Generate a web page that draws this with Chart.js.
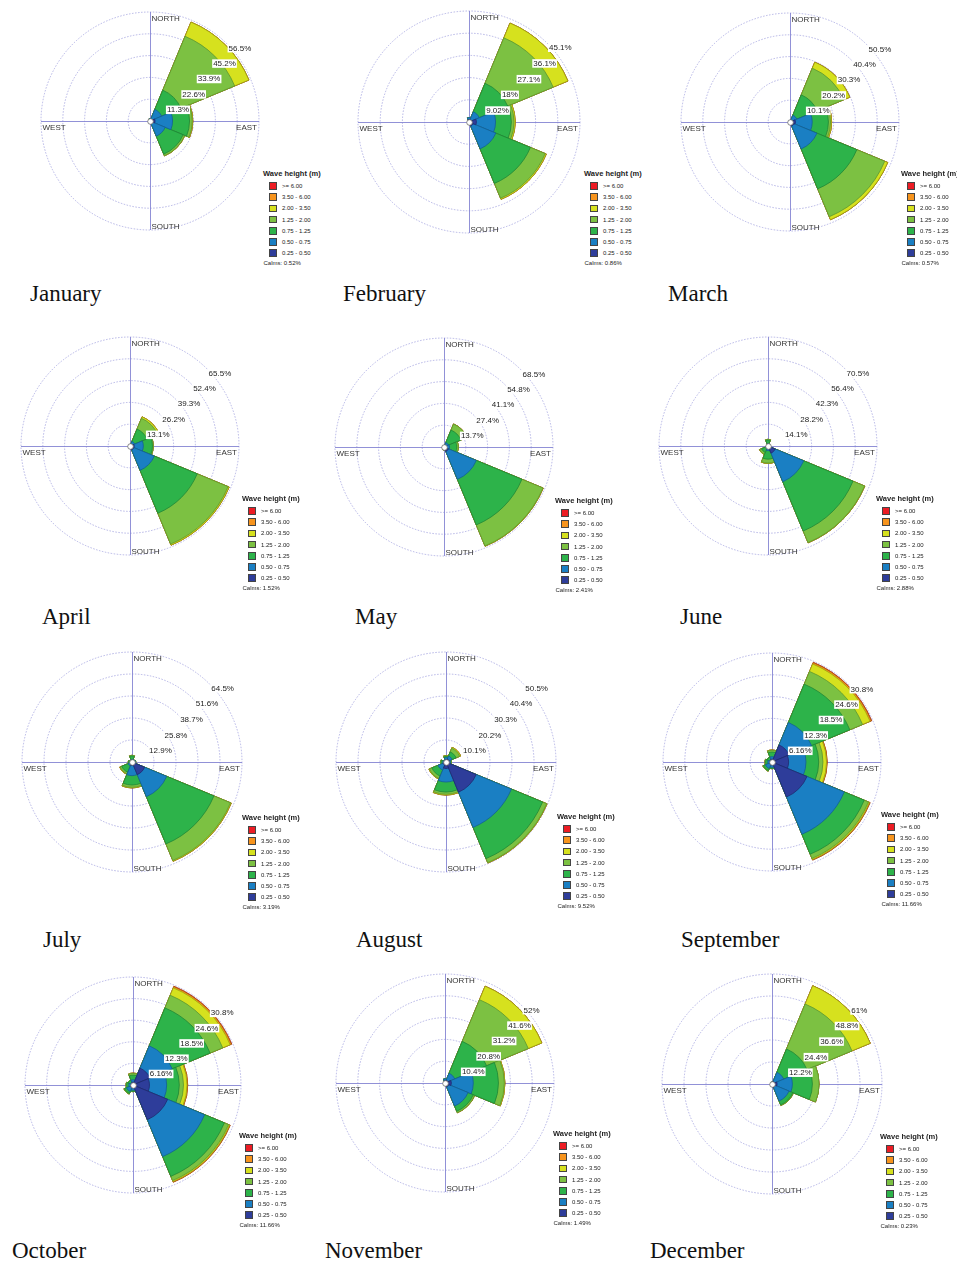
<!DOCTYPE html>
<html>
<head>
<meta charset="utf-8">
<title>Monthly wave roses</title>
<script src="https://cdn.jsdelivr.net/npm/chart.js@4.4.0/dist/chart.umd.min.js"></script>
<style>
  html, body { margin: 0; padding: 0; background: #fff; }
  #page { position: relative; width: 957px; height: 1264px; overflow: hidden; background: #fff; }
  canvas.rose { position: absolute; }
  .month { position: absolute; font-family: "Liberation Serif", "Times New Roman", serif; font-size: 23px; line-height: 23px; color: #111; white-space: nowrap; }
  .legend { position: absolute; width: 72px; height: 100px; font-family: "Liberation Sans", Arial, sans-serif; color: #222; }
  .legend .ttl { position: absolute; left: 0; top: 0; font-weight: bold; font-size: 7.5px; line-height: 7.5px; white-space: nowrap; }
  .legend .sw { position: absolute; left: 5.5px; width: 8px; height: 7.5px; border: 0.6px solid #444; box-sizing: border-box; }
  .legend .lb { position: absolute; left: 19px; font-size: 6px; line-height: 6px; white-space: nowrap; }
  .legend .cl { position: absolute; left: 0.5px; top: 90px; font-size: 6px; line-height: 6px; white-space: nowrap; }
</style>
</head>
<body>
<div id="page"></div>
<script>
// ---- data ---------------------------------------------------------------
const directions = ['N', 'NE', 'E', 'SE', 'S', 'SW', 'W', 'NW'];
const heightBins = ['0.25 - 0.50', '0.50 - 0.75', '0.75 - 1.25', '1.25 - 2.00', '2.00 - 3.50', '3.50 - 6.00', '>= 6.00'];
const months = ['January', 'February', 'March', 'April', 'May', 'June',
                'July', 'August', 'September', 'October', 'November', 'December'];
const calms = [0.52, 0.86, 0.57, 1.52, 2.41, 2.88, 3.19, 9.52, 11.66, 11.66, 1.49, 0.23];
const ringLabels = [
  ['11.3%', '22.6%', '33.9%', '45.2%', '56.5%'],
  ['9.02%', '18%', '27.1%', '36.1%', '45.1%'],
  ['10.1%', '20.2%', '30.3%', '40.4%', '50.5%'],
  ['13.1%', '26.2%', '39.3%', '52.4%', '65.5%'],
  ['13.7%', '27.4%', '41.1%', '54.8%', '68.5%'],
  ['14.1%', '28.2%', '42.3%', '56.4%', '70.5%'],
  ['12.9%', '25.8%', '38.7%', '51.6%', '64.5%'],
  ['10.1%', '20.2%', '30.3%', '40.4%', '50.5%'],
  ['6.16%', '12.3%', '18.5%', '24.6%', '30.8%'],
  ['6.16%', '12.3%', '18.5%', '24.6%', '30.8%'],
  ['10.4%', '20.8%', '31.2%', '41.6%', '52%'],
  ['12.2%', '24.4%', '36.6%', '48.8%', '61%']
];

// Frequency (%) per wave-height bin (rows, lowest bin first) and direction (N..NW)
const january = [
  [0.8, 1.0, 2.6, 1.5, 0.5, 0.2, 0.1, 0.2],
  [0.4, 5.5, 9.1, 7.0, 0, 0, 0, 0],
  [0, 10.8, 8.8, 10.1, 0, 0, 0, 0],
  [0, 30.2, 1.4, 0.9, 0, 0, 0, 0],
  [0, 8.0, 0.3, 0.1, 0, 0, 0, 0],
  [0, 0, 0, 0, 0, 0, 0, 0],
  [0, 0, 0, 0, 0, 0, 0, 0]
];
const february = [
  [1.0, 1.0, 3.0, 1.8, 0.4, 0.2, 0.1, 0.1],
  [0.8, 3.5, 7.8, 10.0, 0.2, 0, 0, 0],
  [0, 12.5, 6.4, 15.2, 0, 0, 0, 0],
  [0, 20.0, 1.1, 6.5, 0, 0, 0, 0],
  [0, 6.5, 0.5, 0.5, 0, 0, 0, 0],
  [0, 0, 0, 0, 0, 0, 0, 0],
  [0, 0, 0, 0, 0, 0, 0, 0]
];
const march = [
  [0.4, 1.0, 2.5, 2.0, 0.3, 0.1, 0, 0.1],
  [0.2, 2.4, 7.8, 11.5, 0, 0, 0, 0],
  [0, 10.2, 7.5, 20.0, 0, 0, 0, 0],
  [0, 13.4, 1.0, 14.0, 0, 0, 0, 0],
  [0, 3.0, 0.5, 1.5, 0, 0, 0, 0],
  [0, 0, 0, 0, 0, 0, 0, 0],
  [0, 0, 0, 0, 0, 0, 0, 0]
];
const april = [
  [0.3, 1.0, 2.5, 2.5, 0.3, 0.1, 0, 0],
  [0.2, 2.0, 5.5, 13.3, 0, 0, 0, 0],
  [0, 8.0, 5.5, 27.9, 0, 0, 0, 0],
  [0, 7.0, 0.5, 20.1, 0, 0, 0, 0],
  [0, 1.0, 0, 0.7, 0, 0, 0, 0],
  [0, 0, 0, 0, 0, 0, 0, 0],
  [0, 0, 0, 0, 0, 0, 0, 0]
];
const may = [
  [0.3, 1.0, 1.5, 3.0, 1.2, 0.3, 0.2, 0.1],
  [0.5, 2.0, 2.0, 19.0, 0.3, 0.2, 0.1, 0],
  [0, 8.5, 4.5, 31.0, 0.3, 0.5, 0.2, 0],
  [0, 4.1, 1.0, 14.3, 0, 0.2, 0, 0],
  [0, 0.1, 0, 0.2, 0, 0, 0, 0],
  [0, 0, 0, 0, 0, 0, 0, 0],
  [0, 0, 0, 0, 0, 0, 0, 0]
];
const june = [
  [0.5, 0.3, 1.0, 5.0, 1.0, 0.8, 0.3, 0.3],
  [1.0, 0.2, 0.5, 20.0, 2.0, 1.0, 0.3, 0],
  [2.3, 0, 0, 34.5, 5.5, 2.7, 0.4, 0],
  [0.5, 0, 0, 8.1, 2.5, 1.3, 0, 0],
  [0, 0, 0, 0.2, 0.3, 0.2, 0, 0],
  [0, 0, 0, 0, 0, 0, 0, 0],
  [0, 0, 0, 0, 0, 0, 0, 0]
];
const july = [
  [0.5, 0.8, 1.5, 8.0, 2.0, 1.0, 0.5, 0.3],
  [1.0, 0.7, 0.5, 14.0, 6.0, 1.5, 0.5, 0.2],
  [2.0, 0.3, 0.2, 30.0, 5.5, 4.0, 1.0, 0],
  [0.4, 0, 0, 10.5, 1.3, 1.0, 0.2, 0],
  [0, 0, 0, 0.5, 0.4, 0.3, 0, 0],
  [0, 0, 0, 0, 0, 0, 0, 0],
  [0, 0, 0, 0, 0, 0, 0, 0]
];
const august = [
  [1.0, 1.5, 1.5, 15.0, 3.0, 1.5, 0.8, 0.5],
  [1.0, 1.5, 0.5, 17.5, 6.2, 2.5, 0.7, 0.5],
  [0.5, 2.0, 0.2, 15.5, 4.6, 3.0, 0.7, 0],
  [0.3, 1.8, 0.2, 2.0, 1.0, 1.2, 0.3, 0],
  [0.2, 0.5, 0, 0.2, 0.4, 0.3, 0, 0],
  [0, 0, 0, 0, 0, 0, 0, 0],
  [0, 0, 0, 0, 0, 0, 0, 0]
];
const september = [
  [0.8, 5.2, 4.7, 10.7, 0.8, 0.8, 0.5, 0.3],
  [0.7, 6.9, 4.9, 11.4, 0.7, 1.2, 0.7, 0.5],
  [1.3, 11.7, 3.6, 6.1, 0.3, 0.6, 0.6, 0.7],
  [0.5, 3.9, 1.2, 1.3, 0.1, 0.2, 0.2, 0.1],
  [0.1, 2.3, 1.0, 0.3, 0, 0, 0, 0],
  [0, 0.4, 0.2, 0.2, 0, 0, 0, 0],
  [0, 0.1, 0, 0, 0, 0, 0, 0]
];
const october = [
  [0.8, 5.2, 4.7, 10.7, 0.8, 0.8, 0.5, 0.3],
  [0.7, 6.9, 4.9, 11.4, 0.7, 1.2, 0.7, 0.5],
  [1.3, 11.7, 3.6, 6.1, 0.3, 0.6, 0.6, 0.7],
  [0.5, 3.9, 1.2, 1.3, 0.1, 0.2, 0.2, 0.1],
  [0.1, 2.3, 1.0, 0.3, 0, 0, 0, 0],
  [0, 0.4, 0.2, 0.2, 0, 0, 0, 0],
  [0, 0.1, 0, 0, 0, 0, 0, 0]
];
const november = [
  [1.0, 1.5, 3.0, 2.0, 0.5, 0.3, 0.2, 0.2],
  [1.0, 3.5, 10.5, 9.9, 0.4, 0.2, 0.2, 0.3],
  [0, 16.5, 12.0, 2.7, 0.1, 0.1, 0, 0],
  [0, 21.5, 2.8, 0.7, 0, 0, 0, 0],
  [0, 7.0, 0.3, 0.1, 0, 0, 0, 0],
  [0, 0, 0, 0, 0, 0, 0, 0],
  [0, 0, 0, 0, 0, 0, 0, 0]
];
const december = [
  [0.6, 1.5, 2.8, 2.0, 0.4, 0.1, 0.1, 0.2],
  [0.4, 5.5, 8.5, 8.2, 0, 0, 0, 0],
  [0, 14.0, 11.1, 2.3, 0, 0, 0, 0],
  [0, 27.0, 3.7, 0.4, 0, 0, 0, 0],
  [0, 11.0, 0, 0, 0, 0, 0, 0],
  [0, 0, 0, 0, 0, 0, 0, 0],
  [0, 0, 0, 0, 0, 0, 0, 0]
];
const monthlyFrequencies = [january, february, march, april, may, june,
                            july, august, september, october, november, december];

// ---- styling ------------------------------------------------------------
const binColors = ['#2e3d9a', '#1a7fc3', '#2db34a', '#7cc142', '#d6e11e', '#f7941d', '#ec1c24'];
const binEdges  = ['#1f2a6e', '#135f95', '#1f8636', '#5b9630', '#99a312', '#a85f10', '#a01217'];
const compassLabels = ['NORTH', 'EAST', 'SOUTH', 'WEST'];
const RING_COLOR = '#a3a3e0';
const AXIS_COLOR = '#8585d2';
const LABEL_FONT = '8px "Liberation Sans", Arial, sans-serif';

// panel geometry: rose centre / radius, legend corner, month title position
const panels = [
  { cx: 150, cy: 121, R: 109, lx: 263, ly: 170, tx: 30,  tb: 301 },
  { cx: 469, cy: 122, R: 111, lx: 584, ly: 170, tx: 343, tb: 301 },
  { cx: 790, cy: 122, R: 109, lx: 901, ly: 170, tx: 668, tb: 301 },
  { cx: 130, cy: 446, R: 109, lx: 242, ly: 495, tx: 42,  tb: 624 },
  { cx: 444, cy: 447, R: 109, lx: 555, ly: 497, tx: 355, tb: 624 },
  { cx: 768, cy: 446, R: 109, lx: 876, ly: 495, tx: 680, tb: 624 },
  { cx: 132, cy: 762, R: 110, lx: 242, ly: 814, tx: 43,  tb: 947 },
  { cx: 446, cy: 762, R: 110, lx: 557, ly: 813, tx: 356, tb: 947 },
  { cx: 772, cy: 762, R: 109, lx: 881, ly: 811, tx: 681, tb: 947 },
  { cx: 133, cy: 1085, R: 108, lx: 239, ly: 1132, tx: 12, tb: 1258 },
  { cx: 445, cy: 1083, R: 109, lx: 553, ly: 1130, tx: 325, tb: 1258 },
  { cx: 772, cy: 1084, R: 110, lx: 880, ly: 1133, tx: 650, tb: 1258 }
];

// Compass cross, compass words, calm circle and ring percentages
const roseDecor = {
  id: 'roseDecor',
  beforeDatasetsDraw(chart) {
    const r = chart.scales.r, ctx = chart.ctx;
    const cx = r.xCenter, cy = r.yCenter, R = r.drawingArea;
    ctx.save();
    ctx.strokeStyle = AXIS_COLOR;
    ctx.lineWidth = 0.9;
    ctx.beginPath();
    ctx.moveTo(cx + 0.5, cy - R); ctx.lineTo(cx + 0.5, cy + R);
    ctx.moveTo(cx - R, cy + 0.5); ctx.lineTo(cx + R, cy + 0.5);
    ctx.stroke();
    ctx.restore();
  },
  afterDatasetsDraw(chart, args, opts) {
    const r = chart.scales.r, ctx = chart.ctx;
    const cx = r.xCenter, cy = r.yCenter, R = r.drawingArea;
    ctx.save();
    // calm circle
    ctx.beginPath();
    ctx.arc(cx + 0.5, cy + 0.5, 2.8, 0, Math.PI * 2);
    ctx.fillStyle = '#ffffff';
    ctx.fill();
    ctx.strokeStyle = '#6b6b6b';
    ctx.lineWidth = 0.8;
    ctx.stroke();

    // compass words
    ctx.font = LABEL_FONT;
    ctx.fillStyle = '#333';
    ctx.textBaseline = 'top';
    ctx.textAlign = 'left';
    ctx.fillText(compassLabels[0], cx + 1.5, cy - R + 2.5);
    ctx.textBaseline = 'alphabetic';
    ctx.fillText(compassLabels[2], cx + 1.5, cy + R - 1.5);
    ctx.textBaseline = 'top';
    ctx.fillText(compassLabels[3], cx - R + 1.5, cy + 2.5);
    ctx.textAlign = 'right';
    ctx.fillText(compassLabels[1], cx + R - 2, cy + 2.5);

    // ring percentages along the 45 degree ray
    const labels = opts.labels || [];
    ctx.textAlign = 'left';
    ctx.textBaseline = 'top';
    r.ticks.forEach((tick, i) => {
      if (i === 0) return;
      const txt = labels[i - 1];
      if (!txt) return;
      const d = r.getDistanceFromCenterForValue(tick.value);
      const x = cx + d * Math.SQRT1_2 + 1.5;
      const y = cy - d * Math.SQRT1_2 + 0.5;
      const w = ctx.measureText(txt).width;
      ctx.fillStyle = '#ffffff';
      ctx.fillRect(x - 1, y - 0.5, w + 2, 8.5);
      ctx.fillStyle = '#222';
      ctx.fillText(txt, x, y);
    });
    ctx.restore();
  }
};

// ---- build ------------------------------------------------------------
const page = document.getElementById('page');

months.forEach((name, m) => {
  const p = panels[m];
  const freq = monthlyFrequencies[m];
  const maxValue = parseFloat(ringLabels[m][4]);

  const pad = 4;
  const side = 2 * p.R + 2 * pad;
  const canvas = document.createElement('canvas');
  canvas.className = 'rose';
  canvas.width = side;
  canvas.height = side;
  canvas.style.width = side + 'px';
  canvas.style.height = side + 'px';
  canvas.style.left = (p.cx - p.R - pad) + 'px';
  canvas.style.top = (p.cy - p.R - pad) + 'px';
  page.appendChild(canvas);

  // stacked rose: each dataset holds the running total up to its bin;
  // the lowest bin comes first so it is painted last (on top)
  const datasets = heightBins.map((bin, b) => ({
    label: bin,
    data: directions.map((_, d) => {
      let s = 0;
      for (let k = 0; k <= b; k++) s += freq[k][d];
      return Math.round(s * 100) / 100;
    }),
    backgroundColor: binColors[b],
    borderColor: binEdges[b],
    borderWidth: 0.8
  }));

  new Chart(canvas, {
    type: 'polarArea',
    data: { labels: directions, datasets },
    options: {
      responsive: false,
      animation: false,
      devicePixelRatio: 1,
      layout: { padding: pad },
      plugins: {
        legend: { display: false },
        tooltip: { enabled: false },
        roseDecor: { labels: ringLabels[m] }
      },
      scales: {
        r: {
          min: 0,
          max: maxValue,
          startAngle: -22.5,
          ticks: { display: false, stepSize: maxValue / 5 },
          grid: { circular: true, color: RING_COLOR, lineWidth: 0.8 },
          border: { dash: [1.5, 1.5] },
          angleLines: { display: false },
          pointLabels: { display: false }
        }
      }
    },
    plugins: [roseDecor]
  });

  // legend
  const lg = document.createElement('div');
  lg.className = 'legend';
  lg.style.left = p.lx + 'px';
  lg.style.top = p.ly + 'px';
  let html = '<div class="ttl">Wave height (m)</div>';
  for (let row = 0; row < heightBins.length; row++) {
    const b = heightBins.length - 1 - row;
    const yc = 16 + row * 11.2;
    html += '<div class="sw" style="top:' + (yc - 3.75) + 'px;background:' + binColors[b] + '"></div>';
    html += '<div class="lb" style="top:' + (yc - 3) + 'px">' + heightBins[b].replace('>', '&gt;') + '</div>';
  }
  html += '<div class="cl">Calms: ' + calms[m].toFixed(2) + '%</div>';
  lg.innerHTML = html;
  page.appendChild(lg);

  // month title
  const t = document.createElement('div');
  t.className = 'month';
  t.textContent = name;
  t.style.left = p.tx + 'px';
  t.style.top = (p.tb - 19.3) + 'px';
  page.appendChild(t);
});
</script>
</body>
</html>
